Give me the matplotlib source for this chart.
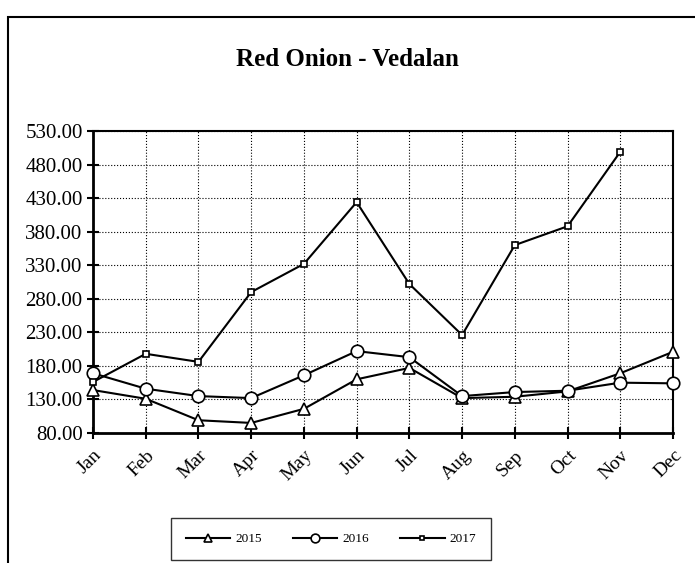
import matplotlib
matplotlib.use('Agg')
import matplotlib.pyplot as plt
from matplotlib.patches import Rectangle

# 字体：Times 风格
matplotlib.rcParams['font.family'] = ['Liberation Serif', 'DejaVu Serif']

months = ['Jan', 'Feb', 'Mar', 'Apr', 'May', 'Jun',
          'Jul', 'Aug', 'Sep', 'Oct', 'Nov', 'Dec']
y2015 = [144, 131, 99, 95, 116, 160, 177, 132, 134, 142, 169, 201]
y2016 = [169, 146, 135, 132, 166, 202, 193, 135, 141, 143, 155, 154]
y2017 = [156, 198, 186, 290, 332, 424, 302, 226, 360, 388, 499, None]
yticks = [80, 130, 180, 230, 280, 330, 380, 430, 480, 530]

fig = plt.figure(figsize=(6.95, 5.63), dpi=100)
ax = fig.add_axes([93/695, 1-433/563, (673-93)/695, (433-131)/563])

x = list(range(len(months)))
y17 = [float('nan') if v is None else v for v in y2017]
ax.plot(x, y2015, color='black', lw=1.5, marker='^', ms=8, mfc='white', mec='black', mew=1.2,
        label='2015', clip_on=False, zorder=3)
ax.plot(x, y2016, color='black', lw=1.5, marker='o', ms=9, mfc='white', mec='black', mew=1.2,
        label='2016', clip_on=False, zorder=3)
ax.plot(x, y17, color='black', lw=1.5, marker='s', ms=5, mfc='white', mec='black', mew=1.2,
        label='2017', clip_on=False, zorder=3)

ax.set_xlim(0, 11)
ax.set_ylim(80, 530)
ax.set_yticks(yticks)
ax.set_yticklabels(['%.2f' % v for v in yticks], fontsize=15)
ax.set_xticks(x)
ax.set_xticklabels(months, fontsize=14, rotation=45, ha='right', rotation_mode='anchor')
ax.grid(True, color='black', ls=':', lw=0.8)
ax.tick_params(axis='both', direction='inout', length=8, width=1.5, colors='black')
ax.tick_params(axis='x', pad=6)
for s in ax.spines.values():
    s.set_linewidth(1.5)
ax.spines['bottom'].set_linewidth(2)
ax.spines['left'].set_linewidth(2)

fig.text(0.5, 1-60/563, 'Red Onion - Vedalan', ha='center', va='center',
         fontsize=18, fontweight='bold')

leg = fig.legend(loc='center', bbox_to_anchor=(331/695, 1-539/563), ncol=3,
                 fontsize=9.5, frameon=True, fancybox=False, edgecolor='black',
                 handlelength=3.4, columnspacing=2.3, borderpad=1.1, markerscale=0.7,
                 handletextpad=0.4)
leg.get_frame().set_linewidth(1)

# 外框
fig.patches.append(Rectangle((8/695, -0.1), 1.0, 1-17/563+0.1, transform=fig.transFigure,
                             fill=False, edgecolor='black', lw=1.5))

fig.savefig('out.png', dpi=100)
